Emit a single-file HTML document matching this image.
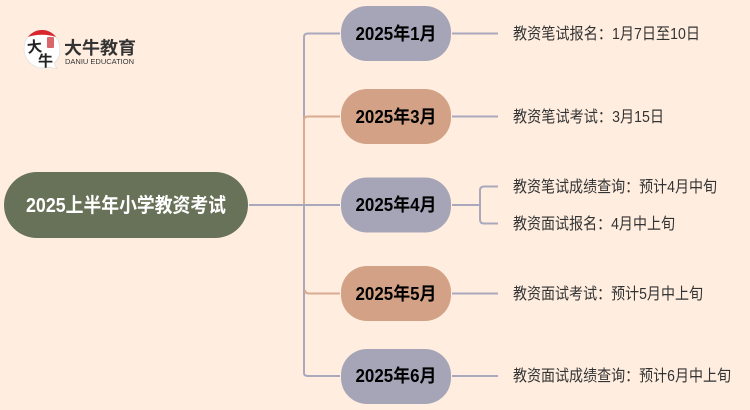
<!DOCTYPE html>
<html lang="zh-CN">
<head>
<meta charset="utf-8">
<style>
html,body{margin:0;padding:0;background:#ffeee0;}
body{width:750px;height:410px;overflow:hidden;position:relative;}
svg{position:absolute;left:0;top:0;display:block;}
text{font-family:"Liberation Sans","Noto Sans CJK SC",sans-serif;}
</style>
</head>
<body>
<svg width="750" height="410" viewBox="0 0 750 410" xmlns="http://www.w3.org/2000/svg">
<rect width="750" height="410" fill="#ffeee0"/>

<!-- logo -->
<path d="M42 30 C31 30 24 39 24 49 C24 60 33 68 43 68 C46 68 48 68 50 67 L57 69 L54 63 C58 60 60 55 60 49 C60 39 52 30 42 30 Z" fill="#fff" stroke="#ddd" stroke-width="0.7"/>
<path d="M28 37 C32 32 37 30 42 30 C48 30 53 33 56 37 C48 34 36 34 28 37 Z" fill="#d8262c"/>
<rect x="47" y="37" width="7" height="11" rx="1" fill="#d9666a"/>
<text x="27" y="52" font-size="15" font-weight="700" fill="#222" transform="rotate(-6 34 46)">大</text>
<text x="38" y="66" font-size="15" font-weight="700" fill="#222">牛</text>
<text x="64" y="54" font-size="17.5" font-weight="700" fill="#333" textLength="72" lengthAdjust="spacingAndGlyphs">大牛教育</text>
<text x="65" y="64" font-size="7.200" fill="#333" textLength="69" lengthAdjust="spacingAndGlyphs">DANIU EDUCATION</text>

<!-- connectors -->
<g fill="none" stroke-width="2">
<path d="M304 205 V37 Q304 33.500 308 33.500 H340" stroke="#a9a8bc"/>
<path d="M304 205 V373 Q304 376 308 376 H340" stroke="#a9a8bc"/>
<path d="M304 205 V120 Q304 116.500 308 116.500 H340" stroke="#d9ab90"/>
<path d="M304 291 V205" stroke="#a9a8bc"/>
<path d="M305 290 Q305 293.500 309 293.500 H340" stroke="#d9ab90"/>
<path d="M249 205 H340" stroke="#a9a8bc"/>
<path d="M452 33.500 H498" stroke="#a9a8bc"/>
<path d="M452 116.500 H498" stroke="#a9a8bc"/>
<path d="M452 205 H480" stroke="#a9a8bc"/>
<path d="M498 186.500 H484 Q480 186.500 480 190.500 V219.500 Q480 223.500 484 223.500 H498" stroke="#a9a8bc"/>
<path d="M452 293.500 H498" stroke="#a9a8bc"/>
<path d="M452 376 H498" stroke="#a9a8bc"/>
</g>

<!-- root -->
<rect x="4" y="172" width="244" height="66" rx="33" fill="#687258"/>
<text x="126" y="212" font-size="20" font-weight="700" fill="#fff" text-anchor="middle" textLength="200" lengthAdjust="spacingAndGlyphs">2025上半年小学教资考试</text>

<!-- month nodes -->
<g>
<rect x="341" y="6" width="110" height="55" rx="26" fill="#a6a5b8"/>
<rect x="341" y="89" width="110" height="55" rx="26" fill="#d3a286"/>
<rect x="341" y="177.500" width="110" height="55" rx="26" fill="#a6a5b8"/>
<rect x="341" y="266" width="110" height="55" rx="26" fill="#d3a286"/>
<rect x="341" y="349" width="110" height="55" rx="26" fill="#a6a5b8"/>
</g>
<g font-size="18" font-weight="700" fill="#000" text-anchor="middle">
<text x="396" y="40" textLength="81" lengthAdjust="spacingAndGlyphs">2025年1月</text>
<text x="396" y="123" textLength="81" lengthAdjust="spacingAndGlyphs">2025年3月</text>
<text x="396" y="211" textLength="81" lengthAdjust="spacingAndGlyphs">2025年4月</text>
<text x="396" y="300" textLength="81" lengthAdjust="spacingAndGlyphs">2025年5月</text>
<text x="396" y="382" textLength="81" lengthAdjust="spacingAndGlyphs">2025年6月</text>
</g>

<!-- leaf labels -->
<g font-size="16" fill="#333">
<text x="513" y="39" textLength="187" lengthAdjust="spacingAndGlyphs">教资笔试报名：1月7日至10日</text>
<text x="513" y="122" textLength="151" lengthAdjust="spacingAndGlyphs">教资笔试考试：3月15日</text>
<text x="513" y="192" textLength="204" lengthAdjust="spacingAndGlyphs">教资笔试成绩查询：预计4月中旬</text>
<text x="513" y="229" textLength="162" lengthAdjust="spacingAndGlyphs">教资面试报名：4月中上旬</text>
<text x="513" y="299" textLength="190" lengthAdjust="spacingAndGlyphs">教资面试考试：预计5月中上旬</text>
<text x="513" y="381" textLength="218" lengthAdjust="spacingAndGlyphs">教资面试成绩查询：预计6月中上旬</text>
</g>
</svg>
</body>
</html>
